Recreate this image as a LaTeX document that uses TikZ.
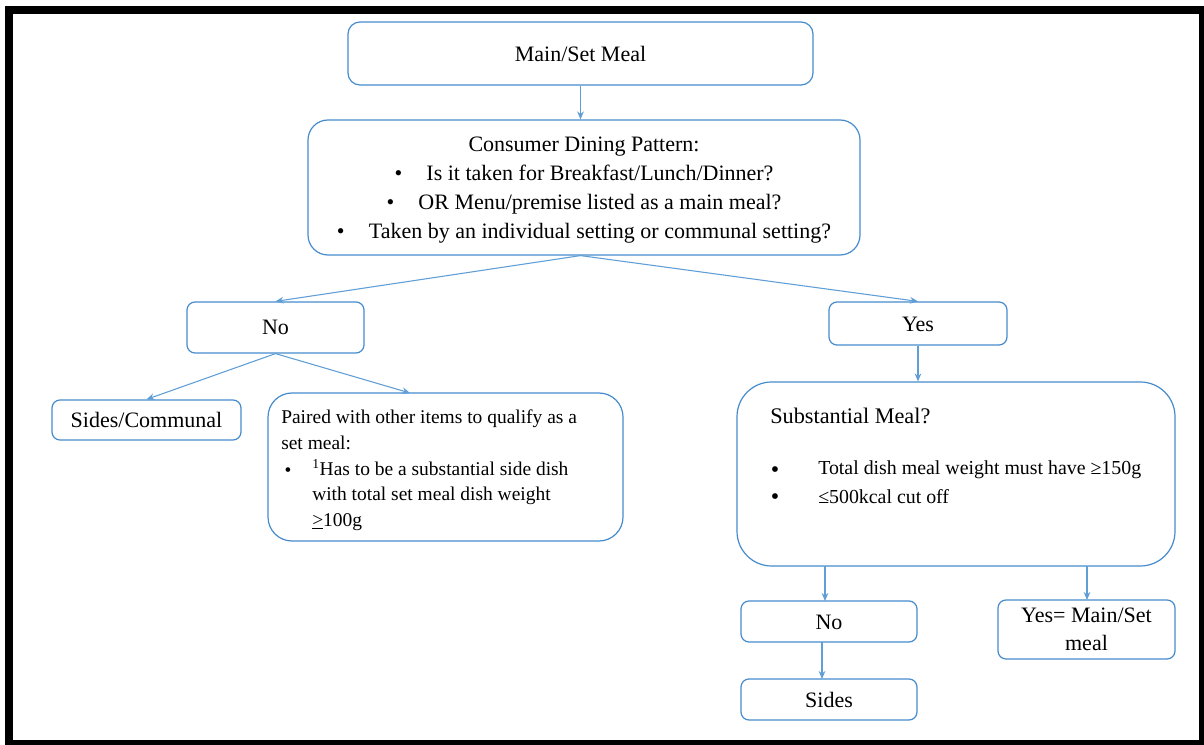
\documentclass[tikz,border=0pt]{standalone}
\usepackage{fontspec}
\setmainfont{Liberation Serif}
\usetikzlibrary{arrows.meta}
\definecolor{boxblue}{RGB}{70,140,205}
\definecolor{arrblue}{RGB}{95,158,215}
\newcommand{\lowertxt}[1]{\raisebox{-1.5pt}[0.72em][0.2em]{#1}}
\begin{document}
\begin{tikzpicture}[x=0.75pt,y=-0.75pt,
  box/.style={draw=boxblue,line width=0.9pt,rounded corners=6pt,inner sep=0pt},
  conn/.style={draw=arrblue,line width=0.8pt,-{Stealth[length=6pt,width=5pt]}},
  txt/.style={inner sep=0pt,text=black}]
\useasboundingbox (0,0) rectangle (1204,745);
\fill[white] (0,0) rectangle (1204,745);
\fill[black] (5,6) rectangle (1204,745);
\fill[white] (13,14) rectangle (1199,740);

\node[box,rounded corners=9pt,minimum width=348.75pt,minimum height=47.25pt,font=\fontsize{16.5}{20}\selectfont]
  (main) at (580.5,53.5) {Main/Set Meal};
\node[box,rounded corners=15pt,minimum width=414pt,minimum height=101.25pt,inner sep=0pt] (cons) at (584,187.5) {};
\node[txt,align=center,font=\fontsize{16.5}{21.75}\selectfont] (constxt) at (584,190.5)
  {Consumer Dining Pattern:\\
   \textbullet\hspace{1.1em}Is it taken for Breakfast/Lunch/Dinner?\\
   \textbullet\hspace{1.1em}OR Menu/premise listed as a main meal?\\
   \textbullet\hspace{1.1em}Taken by an individual setting or communal setting?};
\node[box,minimum width=132.75pt,minimum height=38.25pt,font=\fontsize{16.5}{20}\selectfont]
  (no1) at (275.5,327.5) {No};
\node[box,minimum width=133.5pt,minimum height=32.25pt,font=\fontsize{16.5}{20}\selectfont]
  (yes) at (918,323.5) {\lowertxt{Yes}};
\node[box,minimum width=141.75pt,minimum height=30pt,font=\fontsize{16.5}{20}\selectfont]
  (sc) at (146.5,420) {\lowertxt{Sides/Communal}};
\node[box,rounded corners=18pt,minimum width=266.25pt,minimum height=111pt] (paired) at (445.5,467) {};
\node[txt,anchor=north west,align=left,font=\fontsize{14.6}{19.3}\selectfont]
  (pairedtxt) at (281,409.5)
  {Paired with other items to qualify as a\\ set meal:};
\node[txt,font=\fontsize{14.6}{19.3}\selectfont] (pb) at (288,472) {\textbullet};
\node[txt,anchor=north west,align=left,font=\fontsize{14.6}{19.3}\selectfont]
  (pairedtxt2) at (312,459)
  {\textsuperscript{1}Has to be a substantial side dish\\
   with total set meal dish weight\\
   \underline{>}100g};
\node[box,rounded corners=26pt,minimum width=328.5pt,minimum height=138pt] (sub) at (956,474) {};
\node[txt,anchor=west,font=\fontsize{16.7}{19}\selectfont] (subtitle) at (770,416) {Substantial Meal?};
\node[txt,font=\fontsize{18}{19}\selectfont] (bb1) at (775,472) {\textbullet};
\node[txt,font=\fontsize{18}{19}\selectfont] (bb2) at (775,499) {\textbullet};
\node[txt,anchor=west,font=\fontsize{14.9}{19}\selectfont] (b1) at (818,470)
  {Total dish meal weight must have ≥150g};
\node[txt,anchor=west,font=\fontsize{14.9}{19}\selectfont] (b2) at (818,497)
  {≤500kcal cut off};
\node[box,minimum width=132pt,minimum height=30.75pt,font=\fontsize{16.5}{20}\selectfont]
  (no2) at (829,621.5) {\lowertxt{No}};
\node[box,minimum width=132.75pt,minimum height=44.25pt,align=center,font=\fontsize{16.5}{21}\selectfont]
  (yesm) at (1086.5,629.5) {Yes= Main/Set\\meal};
\node[box,minimum width=132pt,minimum height=30.75pt,font=\fontsize{16.5}{20}\selectfont]
  (sides) at (829,699.5) {Sides};

\coordinate (pin) at (410,393);
\coordinate (s1) at (825,566);
\coordinate (s1e) at (825,601);
\coordinate (s2) at (1087,566);
\coordinate (s2e) at (1087,600);
\coordinate (n2) at (822,642);
\coordinate (n2e) at (822,679);

\draw[conn] (main.south) -- (cons.north -| main.south);
\draw[conn] (cons.south -| main.south) -- (no1.north);
\draw[conn] (cons.south -| main.south) -- (yes.north);
\draw[conn] (yes.south) -- (sub.north -| yes.south);
\draw[conn] (no1.south) -- (sc.north);
\draw[conn] (no1.south) -- (pin);
\draw[conn] (s1) -- (s1e);
\draw[conn] (s2) -- (s2e);
\draw[conn] (n2) -- (n2e);
\end{tikzpicture}
\end{document}
